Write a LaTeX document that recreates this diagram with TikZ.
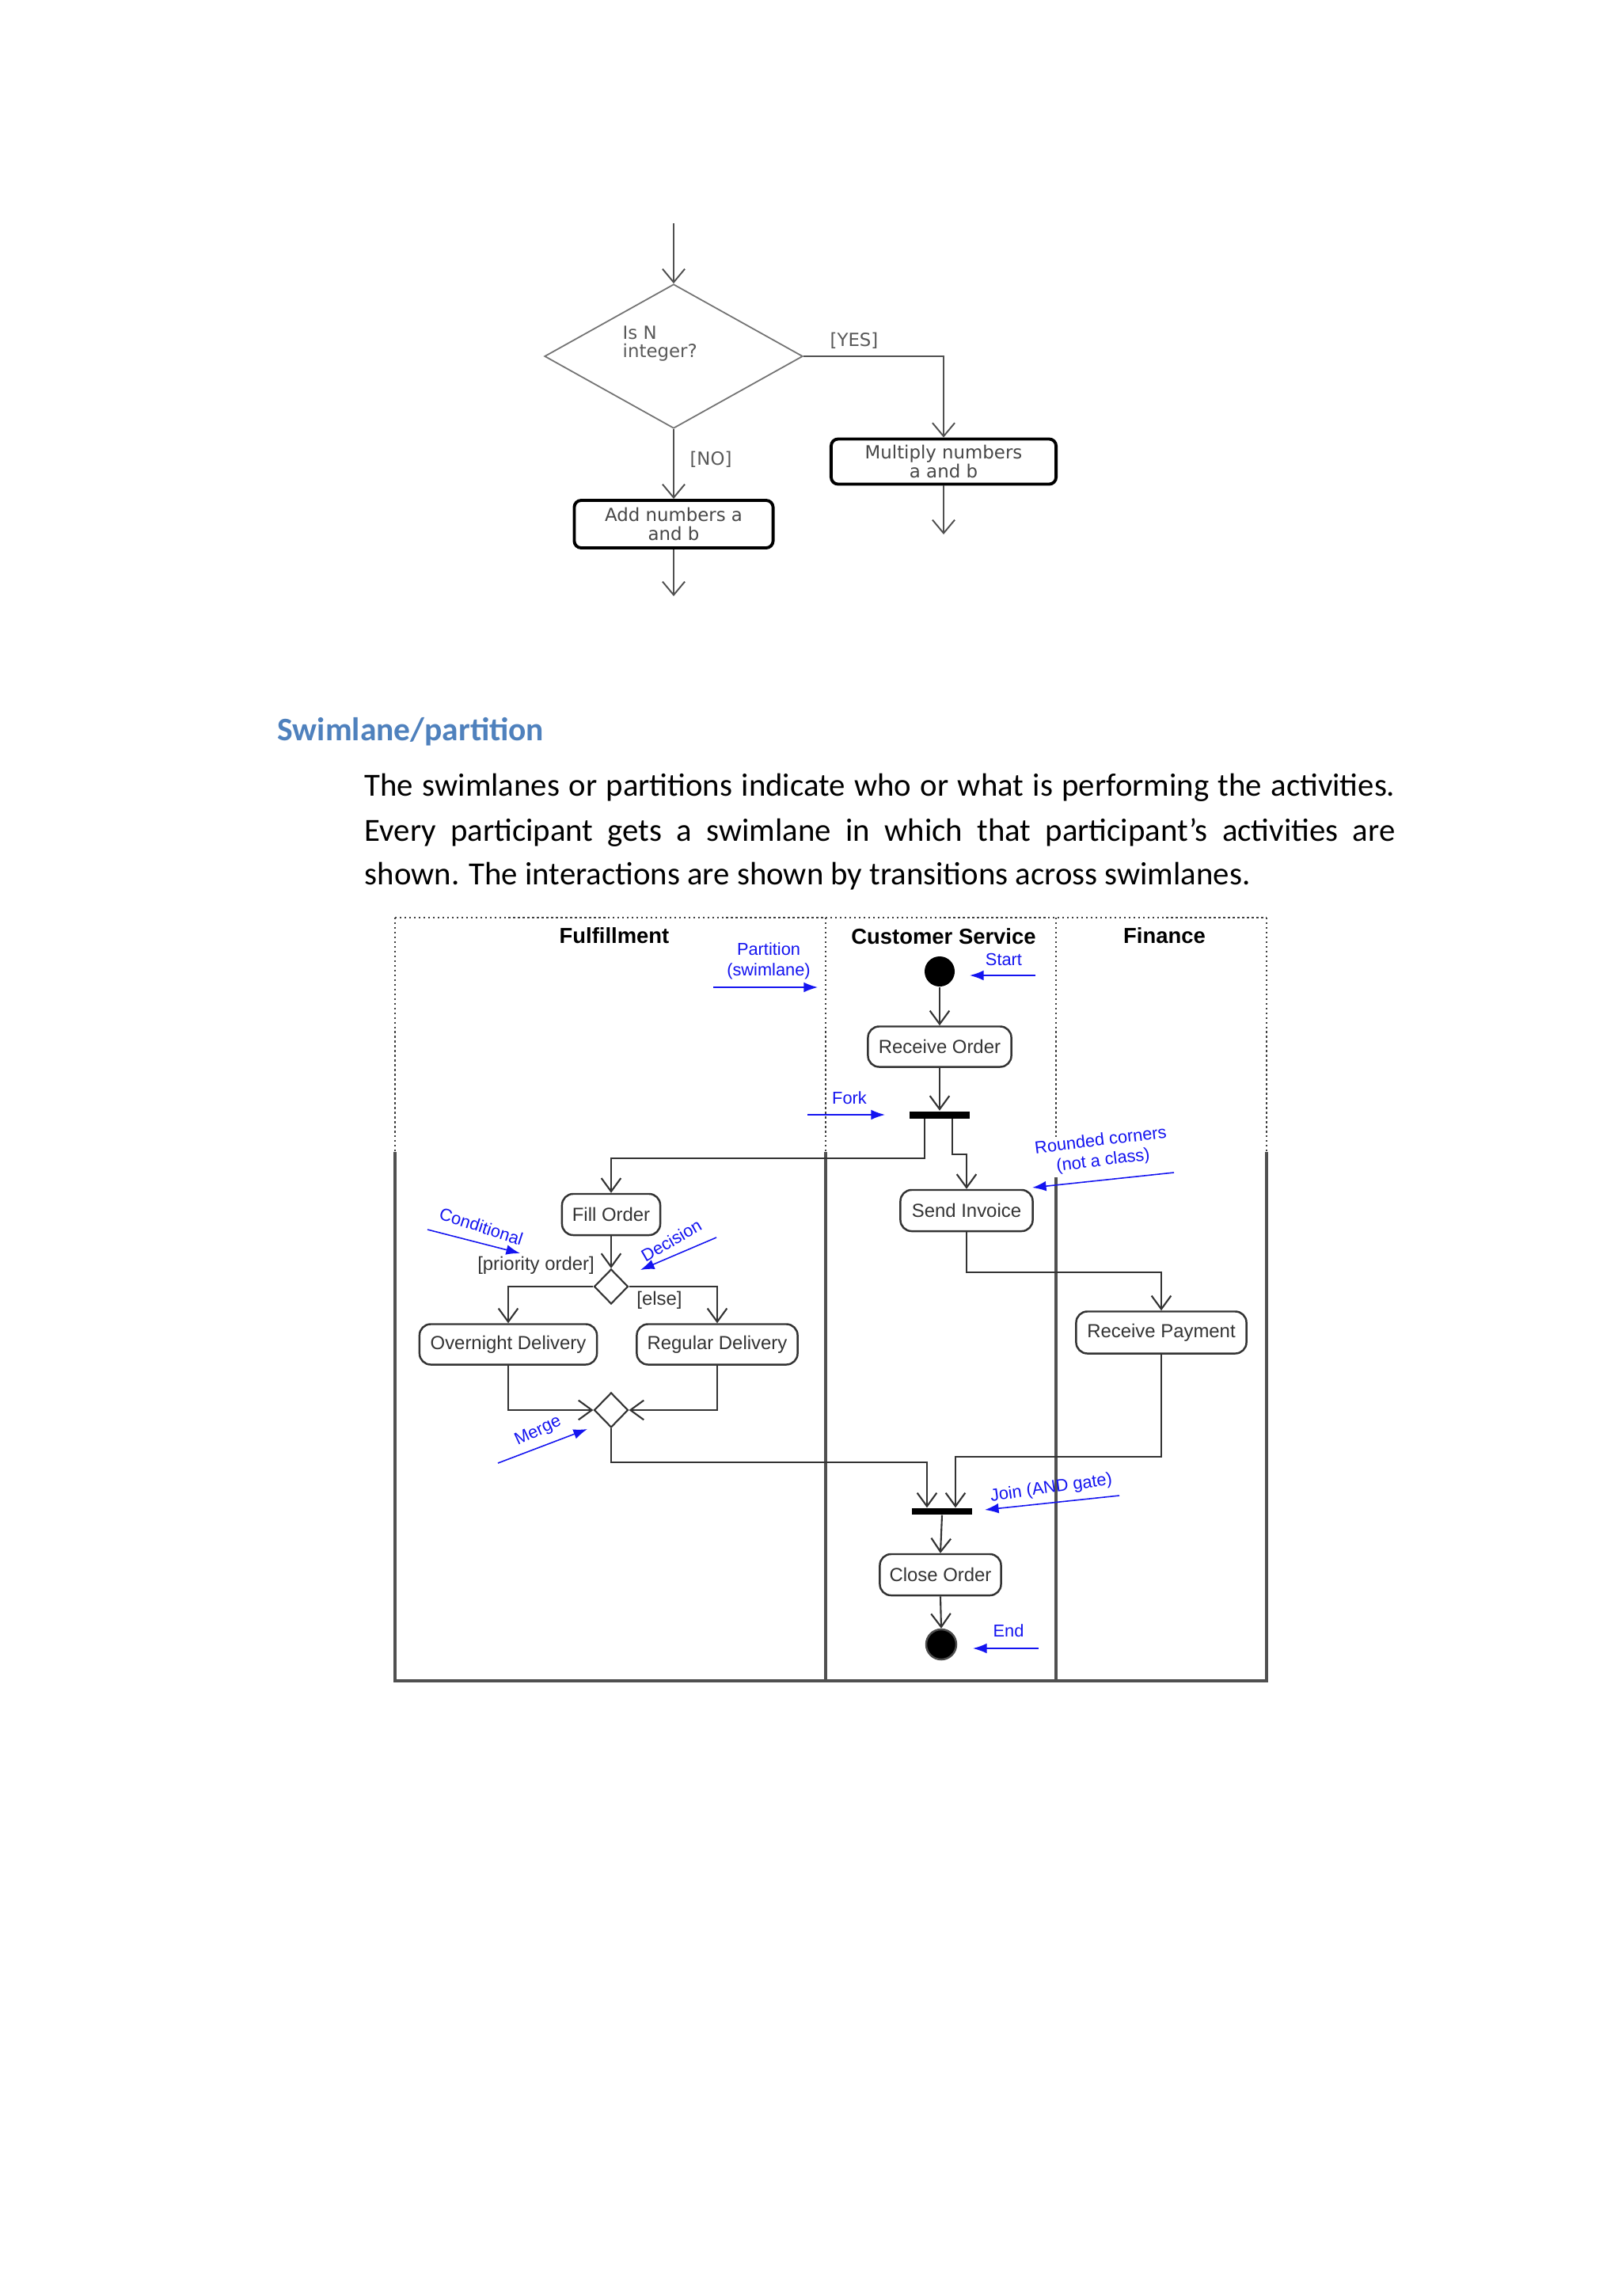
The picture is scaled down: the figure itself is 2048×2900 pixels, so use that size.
\documentclass[tikz,border=0pt]{standalone}
\usepackage{fontspec}
\setmainfont{Carlito}
\newfontfamily\arialf{Liberation Sans}
\newfontfamily\verdf{DejaVu Sans}
\usetikzlibrary{arrows.meta,shapes.geometric,calc}
\definecolor{headblue}{HTML}{4F81BD}
\definecolor{annblue}{HTML}{1414F0}
\definecolor{fcgray}{HTML}{505050}
\definecolor{lanegray}{HTML}{505050}
\begin{document}
\begin{tikzpicture}[x=0.01cm,y=-0.01cm,
  fcbox/.style={draw=black, line width=1.1pt, rounded corners=2.5pt, inner sep=0, align=center,
    font=\verdf\fontsize{6.5pt}{6.7pt}\selectfont, text=black!72},
  fctext/.style={font=\verdf\fontsize{6.5pt}{6.7pt}\selectfont, text=black!65, inner sep=0},
  fcconn/.style={draw=fcgray, line width=0.55pt, -{Straight Barb[length=4.8pt,width=8pt]}},
  fcdec/.style={diamond, draw=black!55, line width=0.5pt, minimum width=3.26cm, minimum height=1.82cm, inner sep=0},
  actbox/.style={draw=black!80, line width=0.7pt, rounded corners=4pt, inner sep=0,
    font=\arialf\fontsize{6.8pt}{8pt}\selectfont, text=black!80},
  barbox/.style={fill=black, draw=none, inner sep=0},
  smalldec/.style={diamond, draw=black!80, line width=0.6pt, minimum width=0.43cm, minimum height=0.44cm, inner sep=0},
  conn/.style={draw=black!80, line width=0.6pt, -{Straight Barb[length=4.8pt,width=7pt]}},
  annot/.style={text=annblue, font=\arialf\fontsize{6.2pt}{7.2pt}\selectfont, inner sep=0, align=center},
  annarr/.style={draw=annblue, line width=0.45pt, -{Latex[length=5pt,width=3.6pt]}},
  lanehead/.style={font=\arialf\bfseries\fontsize{7.8pt}{9pt}\selectfont, inner sep=0},
  guard/.style={font=\arialf\fontsize{6.8pt}{8pt}\selectfont, text=black!80, inner sep=0},
  lanedot/.style={draw=black!75, line width=0.7pt, densely dotted},
  lanesolid/.style={draw=lanegray, line width=0.9pt}
]
\useasboundingbox[fill=white] (0,0) rectangle (2048,2900);

% ---------------- top flowchart ----------------
\coordinate (fcin) at (851,282);
\node[fcdec] (dec) at (851,450) {};
\node[fctext, anchor=west, align=left] (dectext) at (786,434) {Is N\\integer?};
\node[fcbox, minimum width=2.84cm, minimum height=0.57cm] (mult) at (1192,583) {Multiply numbers\\a and b};
\node[fcbox, minimum width=2.51cm, minimum height=0.60cm] (add) at (851,662) {Add numbers a\\and b};
\coordinate (multout) at (1192,675);
\coordinate (addout) at (851,753);
\node[fctext] (yes) at (1079,430) {[YES]};
\node[fctext] (no) at (898,580) {[NO]};
\draw[fcconn] (fcin) -- (dec.north);
\draw[fcconn] (dec.east) -| (mult.north);
\draw[fcconn] (dec.south) -- (add.north);
\draw[fcconn] (mult.south) -- (multout);
\draw[fcconn] (add.south) -- (addout);

% ---------------- heading and text ----------------
\node[anchor=base west, inner sep=0, font=\bfseries\fontsize{11.8pt}{14pt}\selectfont, text=headblue] (head) at (350,935) {Swimlane/partition};
\node[anchor=base west, inner sep=0, font=\fontsize{11.6pt}{15.9pt}\selectfont] (body1) at (460,1005)
  {\makebox[13.01cm][s]{The swimlanes or partitions indicate who or what is performing the activities.}};
\node[anchor=base west, inner sep=0, font=\fontsize{11.6pt}{15.9pt}\selectfont] (body2) at (460,1062)
  {\makebox[13.01cm][s]{Every participant gets a swimlane in which that participant’s activities are}};
\node[anchor=base west, inner sep=0, font=\fontsize{11.6pt}{15.9pt}\selectfont] (body3) at (460,1117)
  {shown. The interactions are shown by transitions across swimlanes.};

% ---------------- swimlane frame ----------------
\draw[lanedot] (499,1159) -- (1600,1159);
\draw[lanedot] (499,1159) -- (499,1455);
\draw[lanedot] (1043,1159) -- (1043,1455);
\draw[lanedot] (1334,1159) -- (1334,1437);
\draw[lanedot] (1600,1159) -- (1600,1455);
\draw[lanesolid] (499,1455) -- (499,2123) -- (1600,2123) -- (1600,1455);
\draw[lanesolid] (1043,1455) -- (1043,2123);
\draw[lanesolid] (1334,1487) -- (1334,2123);

\node[lanehead] (hful) at (776,1182) {Fulfillment};
\node[lanehead] (hcs) at (1192,1183) {Customer Service};
\node[lanehead] (hfin) at (1471,1182) {Finance};

% ---------------- activity nodes ----------------
\node[circle, fill=black, minimum size=0.38cm, inner sep=0] (startn) at (1187,1227) {};
\node[actbox, minimum width=1.81cm, minimum height=0.51cm] (recv) at (1187,1322) {Receive Order};
\node[barbox, minimum width=0.76cm, minimum height=0.09cm] (fork) at (1187,1408) {};
\node[actbox, minimum width=1.24cm, minimum height=0.52cm] (fill) at (772,1534) {Fill Order};
\node[actbox, minimum width=1.67cm, minimum height=0.52cm] (send) at (1221,1529) {Send Invoice};
\node[smalldec] (dec2) at (772,1625) {};
\node[actbox, minimum width=2.24cm, minimum height=0.51cm] (over) at (642,1698) {Overnight Delivery};
\node[actbox, minimum width=2.03cm, minimum height=0.51cm] (reg) at (906,1698) {Regular Delivery};
\node[smalldec] (merge) at (772,1781) {};
\node[actbox, minimum width=2.15cm, minimum height=0.53cm] (pay) at (1467,1683) {Receive Payment};
\node[barbox, minimum width=0.75cm, minimum height=0.08cm] (join) at (1190,1909) {};
\node[actbox, minimum width=1.53cm, minimum height=0.52cm] (close) at (1188,1989) {Close Order};
\node[circle, draw=black!70, line width=0.7pt, fill=black, minimum size=0.38cm, inner sep=0] (endn) at (1189,2077) {};

\node[guard] (gprio) at (677,1598) {[priority order]};
\node[guard] (gelse) at (833,1642) {[else]};

% ---------------- connectors ----------------
\draw[conn] (startn.south) -- (recv.north);
\draw[conn] (recv.south) -- (fork.north);
\draw[conn] ([xshift=-0.19cm]fork.south) -- ++(0,50) -| (fill.north);
\draw[conn] ([xshift=0.16cm]fork.south) -- ++(0,45) -| (send.north);
\draw[conn] (fill.south) -- (dec2.north);
\draw[conn] (dec2.west) -| (over.north);
\draw[conn] (dec2.east) -| (reg.north);
\draw[conn] (over.south) |- (merge.west);
\draw[conn] (reg.south) |- (merge.east);
\draw[conn] (merge.south) -- ++(0,43) -| ([xshift=-0.19cm]join.north);
\draw[conn] (send.south) -- ++(0,51) -| (pay.north);
\draw[conn] (pay.south) -- ++(0,129) -| ([xshift=0.17cm]join.north);
\draw[conn] (join.south) -- (close.north);
\draw[conn] (close.south) -- (endn.north);

% ---------------- annotations ----------------
\node[annot] (aPart) at (971,1214) {Partition\\(swimlane)};
\coordinate (aPartA) at (901,1247); \coordinate (aPartB) at (1033,1247);
\draw[annarr] (aPartA) -- (aPartB);

\node[annot] (aStart) at (1268,1212) {Start};
\coordinate (aStartA) at (1308,1232); \coordinate (aStartB) at (1225,1232);
\draw[annarr] (aStartA) -- (aStartB);

\node[annot] (aFork) at (1073,1387) {Fork};
\coordinate (aForkA) at (1020,1408); \coordinate (aForkB) at (1118,1408);
\draw[annarr] (aForkA) -- (aForkB);

\node[annot, rotate=7] (aRound) at (1392,1454) {Rounded corners\\(not a class)};
\coordinate (aRoundA) at (1483,1481); \coordinate (aRoundB) at (1304,1500);
\draw[annarr] (aRoundA) -- (aRoundB);

\node[annot, rotate=-18] (aCond) at (608,1549) {Conditional};
\coordinate (aCondA) at (540,1553); \coordinate (aCondB) at (657,1583);
\draw[annarr] (aCondA) -- (aCondB);

\node[annot, rotate=30] (aDec) at (848,1567) {Decision};
\coordinate (aDecA) at (905,1563); \coordinate (aDecB) at (809,1604);
\draw[annarr] (aDecA) -- (aDecB);

\node[annot, rotate=25] (aMerge) at (680,1808) {Merge};
\coordinate (aMergeA) at (629,1848); \coordinate (aMergeB) at (742,1805);
\draw[annarr] (aMergeA) -- (aMergeB);

\node[annot, rotate=8] (aJoin) at (1328,1880) {Join (AND gate)};
\coordinate (aJoinA) at (1414,1889); \coordinate (aJoinB) at (1244,1907);
\draw[annarr] (aJoinA) -- (aJoinB);

\node[annot] (aEnd) at (1274,2060) {End};
\coordinate (aEndA) at (1312,2082); \coordinate (aEndB) at (1229,2082);
\draw[annarr] (aEndA) -- (aEndB);
\end{tikzpicture}
\end{document}
